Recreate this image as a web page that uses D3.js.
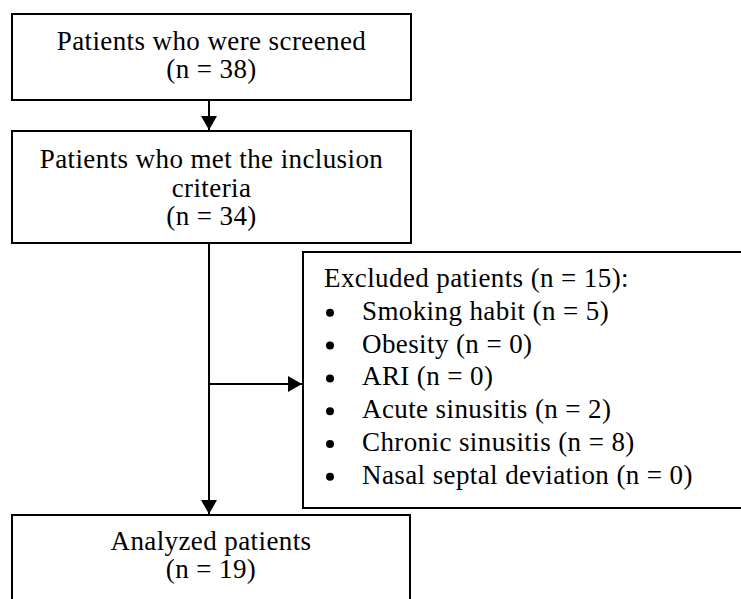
<!DOCTYPE html>
<html>
<head>
<meta charset="utf-8">
<script src="https://cdn.jsdelivr.net/npm/d3@7/dist/d3.min.js"></script>
<style>
  html, body { margin: 0; padding: 0; background: #fff; }
  svg { display: block; }
  text { font-family: "Liberation Serif", "Times New Roman", serif; fill: #000; }
</style>
</head>
<body>
<svg id="chart" width="741" height="599"></svg>
<script>
// ---- data ----
const stageLines = [
  ["Patients who were screened"],
  ["Patients who met the inclusion", "criteria"],
  ["Analyzed patients"]
];
const stageCounts = [38, 34, 19];
const excludedTotal = 15;
const exclusionReasons = ["Smoking habit", "Obesity", "ARI", "Acute sinusitis", "Chronic sinusitis", "Nasal septal deviation"];
const exclusionCounts = [5, 0, 0, 2, 8, 0];

// ---- layout ----
const svg = d3.select("#chart");
const FS = 27;
const LS = 0.4;
const stageBoxes = [
  {x0: 12, y0: 14, x1: 411, y1: 100, firstBase: 50, step: 28},
  {x0: 12, y0: 131, x1: 411, y1: 243, firstBase: 168, step: 28.5},
  {x0: 12, y0: 515, x1: 410, y1: 602, firstBase: 550, step: 28}
];
const exBox = {x0: 303, y0: 252, x1: 748, y1: 508};
const shaftX = 209;
const arrowY = 384;

const defs = svg.append("defs");
defs.append("marker")
  .attr("id", "arrow")
  .attr("viewBox", "0 0 14 16")
  .attr("refX", 14).attr("refY", 8)
  .attr("markerWidth", 14).attr("markerHeight", 16)
  .attr("markerUnits", "userSpaceOnUse")
  .attr("orient", "auto")
  .append("path").attr("d", "M0,0 L14,8 L0,16 Z").attr("fill", "#000");

// boxes
stageBoxes.forEach((b, i) => {
  svg.append("rect")
    .attr("x", b.x0).attr("y", b.y0)
    .attr("width", b.x1 - b.x0).attr("height", b.y1 - b.y0)
    .attr("fill", "#fff").attr("stroke", "#000").attr("stroke-width", 2);
  const lines = stageLines[i].concat([`(n = ${stageCounts[i]})`]);
  const cx = (b.x0 + b.x1) / 2;
  svg.append("g").selectAll("text").data(lines).join("text")
    .attr("x", cx)
    .attr("y", (d, j) => b.firstBase + j * b.step)
    .attr("text-anchor", "middle")
    .attr("font-size", FS)
    .attr("letter-spacing", LS)
    .text(d => d);
});

svg.append("rect")
  .attr("x", exBox.x0).attr("y", exBox.y0)
  .attr("width", exBox.x1 - exBox.x0).attr("height", exBox.y1 - exBox.y0)
  .attr("fill", "#fff").attr("stroke", "#000").attr("stroke-width", 2);

const exStep = 32.8;
const exBase = 287;
svg.append("text")
  .attr("x", 324).attr("y", exBase)
  .attr("font-size", FS).attr("letter-spacing", LS)
  .text(`Excluded patients (n = ${excludedTotal}):`);
const items = exclusionReasons.map((r, i) => ({label: `${r} (n = ${exclusionCounts[i]})`, i}));
const g = svg.append("g");
g.selectAll("circle").data(items).join("circle")
  .attr("cx", 330)
  .attr("cy", d => exBase + (d.i + 1) * exStep - 7)
  .attr("r", 4)
  .attr("fill", "#000");
g.selectAll("text").data(items).join("text")
  .attr("x", 362)
  .attr("y", d => exBase + (d.i + 1) * exStep)
  .attr("font-size", FS).attr("letter-spacing", LS)
  .text(d => d.label);

// connectors
const line = d3.line();
const conn = [
  [[shaftX, stageBoxes[0].y1], [shaftX, stageBoxes[1].y0 - 1]],
  [[shaftX, stageBoxes[1].y1], [shaftX, stageBoxes[2].y0 - 1]],
  [[shaftX, arrowY], [exBox.x0 - 1, arrowY]]
];
svg.append("g").selectAll("path").data(conn).join("path")
  .attr("d", d => line(d))
  .attr("stroke", "#000").attr("stroke-width", 2).attr("fill", "none")
  .attr("marker-end", "url(#arrow)");
</script>
</body>
</html>
